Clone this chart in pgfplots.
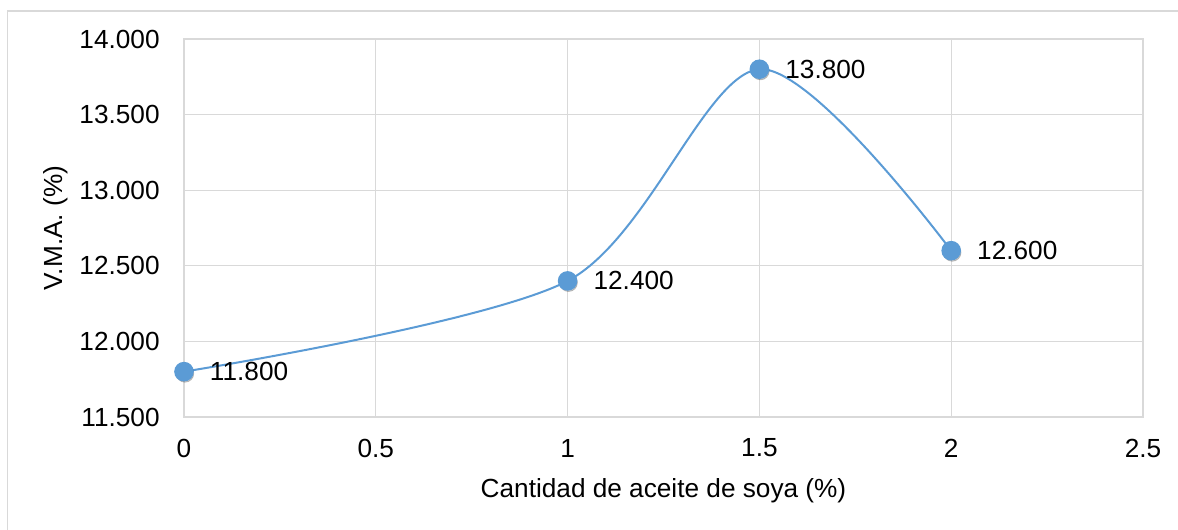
\documentclass[border=0pt]{standalone}
\usepackage{pgfplots}
\pgfplotsset{compat=1.18}
\usepackage{fontspec}
\setmainfont{Liberation Sans}
\definecolor{serie}{HTML}{5B9BD5}
\definecolor{rejilla}{HTML}{D9D9D9}

\pgfplotstableread{
x    y
0    11.8
1    12.4
1.5  13.8
2    12.6
}\datos

\begin{document}
\begin{tikzpicture}[font=\fontsize{13.1}{15}\selectfont]
\useasboundingbox (-92pt,-56.5pt) rectangle (497pt,208.5pt);
% marco del grafico
\draw[rejilla, line width=0.8pt] (-88.25pt,-70pt) -- (-88.25pt,203pt) -- (520pt,203pt);
\begin{axis}[
    at={(0,0)}, anchor=south west,
    scale only axis,
    width=479.5pt, height=189pt,
    xmin=0, xmax=2.5,
    ymin=11.5, ymax=14,
    xtick={0,0.5,1,1.5,2,2.5},
    ytick={11.5,12,12.5,13,13.5,14},
    scaled y ticks=false,
    /pgf/number format/assume math mode=true,
    /pgf/number format/1000 sep={},
    y tick label style={/pgf/number format/fixed, /pgf/number format/fixed zerofill,
        /pgf/number format/precision=3},
    major tick length=0pt,
    grid=major,
    major grid style={rejilla, line width=0.6pt},
    axis line style={rejilla, line width=0.6pt},
    xticklabel style={anchor=center, inner sep=0pt, yshift=-15.5pt},
    yticklabel style={anchor=east, inner sep=0pt, xshift=-12pt},
    xlabel={Cantidad de aceite de soya (\%)},
    ylabel={V.M.A. (\%)},
    xlabel style={at={(axis description cs:0.5,0)}, anchor=center, yshift=-37pt},
    ylabel style={at={(axis description cs:0,0.5)}, anchor=center, yshift=64pt},
    nodes near coords={\pgfmathprintnumber[fixed,fixed zerofill,precision=3]{\pgfplotspointmeta}},
    every node near coord/.append style={anchor=west, inner sep=0pt, xshift=12.5pt, text=black},
]
% sombra de los marcadores
\addplot[only marks, mark=*, mark size=4.4pt, black, opacity=0.2, forget plot,
    nodes near coords={}, every mark/.append style={xshift=0.5pt, yshift=-0.9pt}]
    table[x=x, y=y] {\datos};
\addplot[serie, line width=1pt, smooth, mark=*, mark size=4.4pt,
    mark options={fill=serie, draw=serie}]
    table[x=x, y=y] {\datos};
\end{axis}
\end{tikzpicture}
\end{document}
